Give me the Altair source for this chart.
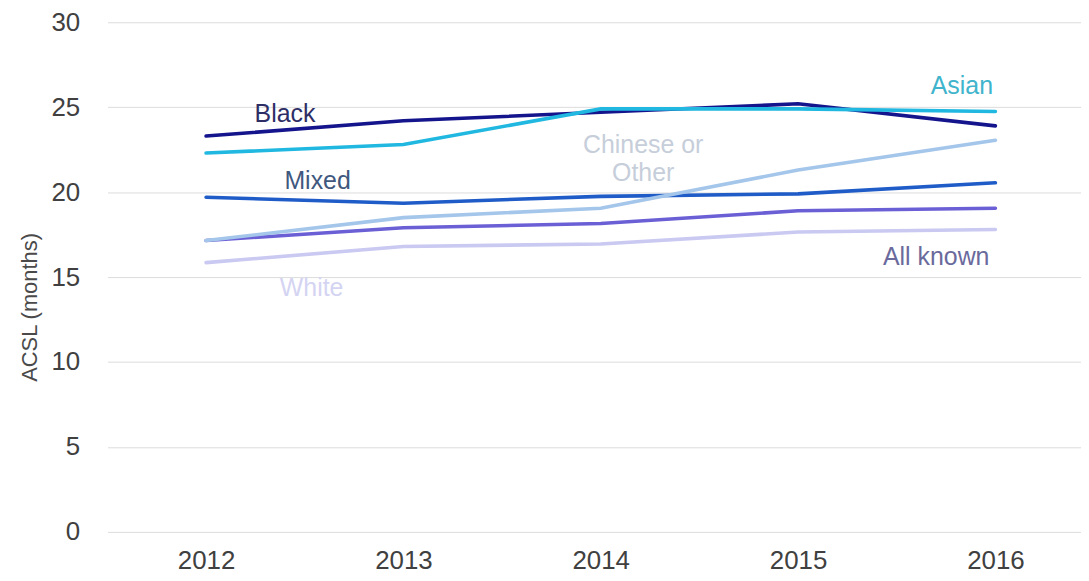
import altair as alt
import pandas as pd

years = [2012, 2013, 2014, 2015, 2016]
series_names = ["Mixed", "White", "All known", "Chinese or Other", "Black", "Asian"]
mixed = [19.7, 19.35, 19.75, 19.9, 20.55]
white = [15.85, 16.8, 16.95, 17.65, 17.8]
all_known = [17.15, 17.9, 18.15, 18.9, 19.05]
chinese_other = [17.15, 18.5, 19.05, 21.3, 23.05]
black = [23.3, 24.2, 24.7, 25.2, 23.9]
asian = [22.3, 22.8, 24.9, 24.9, 24.75]
line_colors = ["#1f5cc8", "#c9c9f2", "#6b5fd6", "#a4c6ea", "#14148c", "#20b8e0"]

# annotation labels (text, anchor year, anchor value, colour)
label_texts = ["Black", "Mixed", "White", "Chinese or", "Other", "Asian", "All known"]
label_years = [2012.40, 2012.565, 2012.535, 2014.215, 2014.215, 2015.83, 2015.70]
label_values = [24.6, 20.68, 14.35, 22.79, 21.15, 26.25, 16.17]
label_colors = ["#2e2e66", "#40587e", "#d4d4f2", "#c6ceda", "#c6ceda", "#40b4cc", "#6a6a9c"]

all_values = [mixed, white, all_known, chinese_other, black, asian]
rows = []
for name, vals in zip(series_names, all_values):
    for y, v in zip(years, vals):
        rows.append({"Year": y, "ACSL": v, "Group": name})
df = pd.DataFrame(rows)

labels_df = pd.DataFrame({
    "text": label_texts,
    "Year": label_years,
    "ACSL": label_values,
    "col": label_colors,
})

FONT = "Liberation Sans"
W = 978
H = 512
x_scale = alt.Scale(domain=[2011.5006, 2011.5006 + W / 198.25], nice=False, zero=False)
y_scale = alt.Scale(domain=[0, 30], nice=False)

lines = alt.Chart(df).mark_line(strokeWidth=3.6, strokeCap="round").encode(
    x=alt.X("Year:Q", scale=x_scale,
            axis=alt.Axis(values=years, format="d", title=None, grid=False, domain=False,
                          ticks=False, labelFontSize=26, labelPadding=16,
                          labelColor="#404040", labelFont=FONT)),
    y=alt.Y("ACSL:Q", scale=y_scale,
            axis=alt.Axis(values=[0, 5, 10, 15, 20, 25, 30], title="ACSL (months)",
                          grid=True, gridColor="#dcdcdc", gridWidth=1, domain=False,
                          ticks=False, labelFontSize=26, labelPadding=28,
                          labelColor="#404040", labelFont=FONT,
                          titleFont=FONT, titleFontSize=22, titleFontWeight="normal",
                          titleColor="#4a4a4a", titleAngle=270, titleX=-78, titleY=307 - 21,
                          titleAlign="center", titleBaseline="middle")),
    color=alt.Color("Group:N", scale=alt.Scale(domain=series_names, range=line_colors),
                    legend=None),
)

texts = alt.Chart(labels_df).mark_text(font=FONT, fontSize=25, baseline="middle",
                                       align="center").encode(
    x=alt.X("Year:Q", scale=x_scale),
    y=alt.Y("ACSL:Q", scale=y_scale),
    text="text:N",
    color=alt.Color("col:N", scale=None),
)

chart = alt.layer(lines, texts).properties(
    width=W, height=H,
    autosize=alt.AutoSizeParams(type="none"),
    padding={"left": 100, "top": 13, "right": 0, "bottom": 45},
).configure_view(stroke=None)

chart.save("out.html", embed_options={"renderer": "svg", "actions": False})
